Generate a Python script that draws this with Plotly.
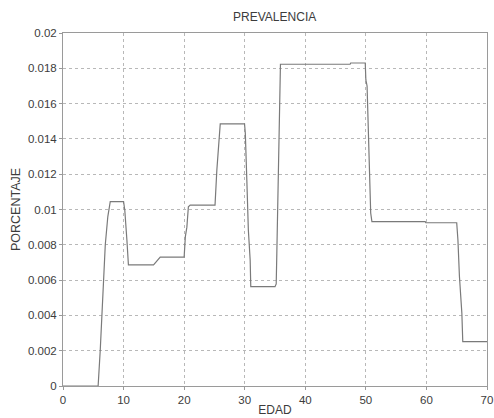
import plotly.graph_objects as go

edad = [0, 5.8, 6.15, 6.43, 6.7, 6.98, 7.4, 7.8, 10.0, 10.2, 10.55, 10.8,
        14.95, 16.05, 20.0, 20.2, 20.45, 20.7, 21.0, 25.1, 25.4, 25.7, 25.96,
        29.97, 30.1, 30.35, 30.6, 30.9, 31.0, 35.0, 35.2, 35.3, 35.5, 35.7,
        35.9, 47.4, 47.5, 49.9, 50.0, 50.2, 50.4, 50.6, 50.8, 51.0, 59.8,
        59.9, 65.0, 65.2, 65.45, 65.85, 66.0, 70]
porcentaje = [0, 0, 0.00204, 0.00414, 0.0062, 0.0080, 0.0096, 0.01045, 0.01045,
              0.00997, 0.00827, 0.00686, 0.00686, 0.0073, 0.0073, 0.00846,
              0.00900, 0.01016, 0.01025, 0.01025, 0.01224, 0.01375, 0.01485,
              0.01485, 0.01432, 0.01167, 0.00884, 0.00714, 0.00563, 0.00563,
              0.00578, 0.0075, 0.01129, 0.0162, 0.01823, 0.01823, 0.0183,
              0.0183, 0.01734, 0.0170, 0.0145, 0.01224, 0.0098, 0.00931,
              0.00931, 0.00925, 0.00925, 0.00827, 0.0062, 0.00412, 0.00251,
              0.00251]

x_ticks = [0, 10, 20, 30, 40, 50, 60, 70]
y_ticks = [0, 0.002, 0.004, 0.006, 0.008, 0.01, 0.012, 0.014, 0.016, 0.018, 0.02]
y_labels = ["0", "0.002", "0.004", "0.006", "0.008", "0.01", "0.012",
            "0.014", "0.016", "0.018", "0.02"]

FONT = "Liberation Sans, Arial"
TXT = "#3c3c3c"

fig = go.Figure()
fig.add_trace(go.Scatter(x=edad, y=porcentaje, mode="lines",
                         line=dict(color="#7a7a7a", width=1.2),
                         showlegend=False, hoverinfo="skip"))

axis_common = dict(showline=True, linecolor="#9a9a9a", linewidth=1, mirror=True,
                   showgrid=True, gridcolor="#b8b8b8", griddash="dot", gridwidth=1,
                   ticks="outside", ticklen=3, tickcolor="#9a9a9a",
                   zeroline=False, automargin=False,
                   tickfont=dict(family=FONT, size=11.5, color=TXT))

fig.update_layout(
    width=494, height=418,
    margin=dict(l=63, r=7, t=33, b=32),
    paper_bgcolor="white", plot_bgcolor="white",
    title=dict(text="PREVALENCIA", x=0.556, xanchor="center", y=0.96, yanchor="middle",
               font=dict(family=FONT, size=12, color=TXT)),
    xaxis=dict(range=[0, 70], tickvals=x_ticks, ticktext=[str(v) for v in x_ticks],
               title=dict(text="EDAD", standoff=0,
                          font=dict(family=FONT, size=12, color=TXT)),
               **axis_common),
    yaxis=dict(range=[0, 0.02], tickvals=y_ticks, ticktext=y_labels,
               title=dict(text="PORCENTAJE", standoff=4,
                          font=dict(family=FONT, size=12.5, color=TXT)),
               **axis_common),
)

fig.write_html("out.html", config={"displayModeBar": False},
               post_script="document.body.style.margin='0';document.body.style.overflow='hidden';")
